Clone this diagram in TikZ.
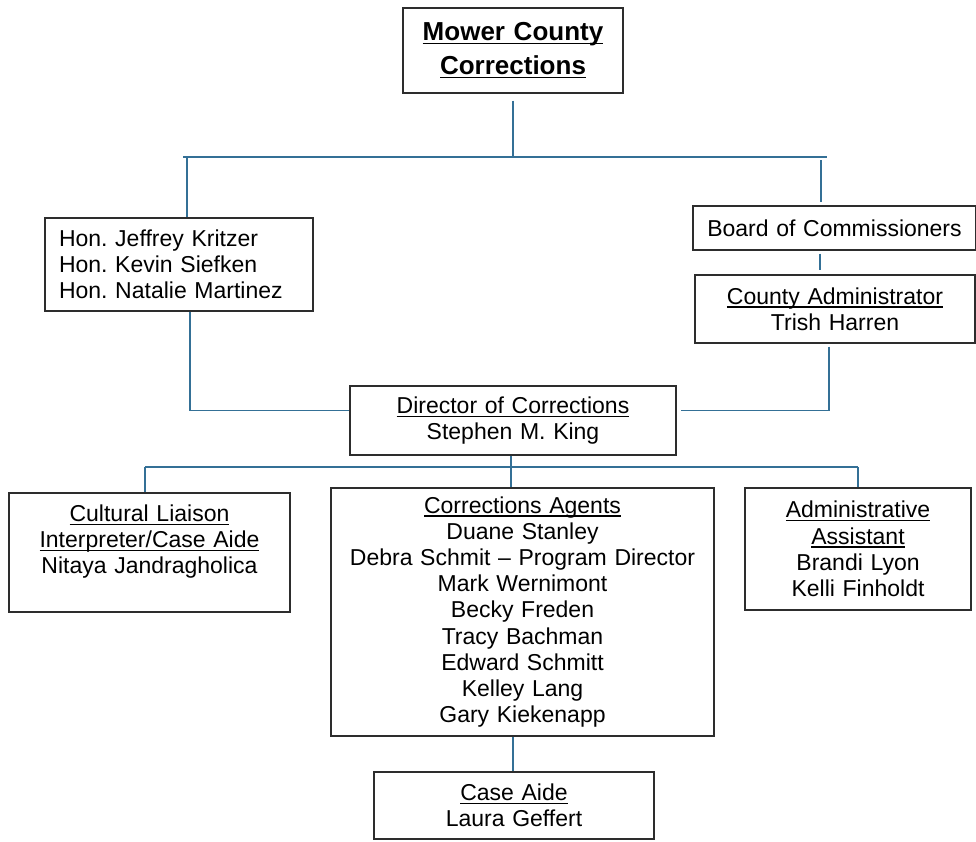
\documentclass[tikz,border=0pt]{standalone}
\usepackage{fontspec}
\setmainfont{Liberation Sans}
\usetikzlibrary{positioning}
\definecolor{linkblue}{RGB}{52,112,150}
\definecolor{boxgray}{RGB}{45,45,45}
\newcommand{\ulin}[1]{\leavevmode\setbox0\hbox{#1}\rlap{\rule[-3.4pt]{\wd0}{1.1pt}}\box0}
\frenchspacing

\begin{document}
\begin{tikzpicture}[x=1pt, y=-1pt,
    box/.style={draw=boxgray, line width=1.3pt, inner xsep=4pt, inner ysep=0pt, align=center},
    link/.style={draw=linkblue, line width=1.3pt},
    font=\fontsize{23}{26.2}\selectfont]
    \useasboundingbox (0,0) rectangle (976,841);

    % Nodes {mower, judges, board, admin, director, etc}
    \node [box, text width=212pt, minimum height=85pt, font=\bfseries\fontsize{26}{34}\selectfont]
                                        (mower)     at (513,50.5)   {\ulin{Mower County}\\\ulin{Corrections}};
    \node [box, text width=240pt, inner xsep=14pt, align=left, minimum height=93pt]
                                        (judges)    at (179,264.5)  {Hon. Jeffrey Kritzer\\Hon. Kevin Siefken\\Hon. Natalie Martinez};
    \node [box, text width=275pt, minimum height=44pt]
                                        (board)     at (834.5,228)  {Board of Commissioners};
    \node [box, text width=272pt, minimum height=68pt]
                                        (admin)     at (835,309)    {\ulin{County Administrator}\\Trish Harren};
    \node [box, text width=318pt, minimum height=69pt]
                                        (director)  at (513,420.5)  {\ulin{Director of Corrections}\\Stephen M. King};
    \node [box, text width=273pt, minimum height=119pt]
                                        (cultural)  at (149.5,552.5) {\ulin{Cultural Liaison}\\\ulin{Interpreter/Case Aide}\\Nitaya Jandragholica\\\mbox{}};
    \node [box, text width=375pt, minimum height=248pt]
                                        (agents)    at (522.5,612)  {\ulin{Corrections Agents}\\Duane Stanley\\Debra Schmit – Program Director\\Mark Wernimont\\Becky Freden\\Tracy Bachman\\Edward Schmitt\\Kelley Lang\\Gary Kiekenapp};
    \node [box, text width=218pt, minimum height=122pt]
                                        (assistant) at (858,549)    {\ulin{Administrative}\\\ulin{Assistant}\\Brandi Lyon\\Kelli Finholdt};
    \node [box, text width=272pt, minimum height=67pt]
                                        (caseaide)  at (514,805.5)  {\ulin{Case Aide}\\Laura Geffert};

    % Bus points
    \coordinate (topbusL) at (183,157);
    \coordinate (topbusR) at (827,157);
    \coordinate (jdrop)   at (187,157);
    \coordinate (bdrop)   at (821,157);
    \coordinate (lowbusL) at (145,467);
    \coordinate (lowbusR) at (858,467);

    % Paths
    \draw [link] ([yshift=-7pt]mower.south) -- (mower.south |- topbusL);
    \draw [link] (topbusL) -- (topbusR);
    \draw [link] (jdrop) -- (jdrop |- judges.north);
    \draw [link] ([yshift=-3pt]bdrop) -- ([yshift=3pt]bdrop |- board.north);
    \draw [link] ([xshift=-14.5pt, yshift=-3pt]board.south) -- ([xshift=-15pt, yshift=4pt]admin.north);
    \draw [link] ([xshift=-6pt, yshift=-3pt]admin.south) |- ([xshift=4pt, yshift=10pt]director.east);
    \draw [link] ([xshift=11pt]judges.south) |- ([yshift=10pt]director.west);
    \draw [link] ([xshift=-2pt]director.south) -- ([xshift=-2pt]director.south |- agents.north);
    \draw [link] (lowbusL) -- (lowbusR);
    \draw [link] (lowbusL) -- (lowbusL |- cultural.north);
    \draw [link] (lowbusR) -- (lowbusR |- assistant.north);
    \draw [link] ([xshift=-9.5pt]agents.south) -- ([xshift=-9.5pt]agents.south |- caseaide.north);

\end{tikzpicture}
\end{document}
